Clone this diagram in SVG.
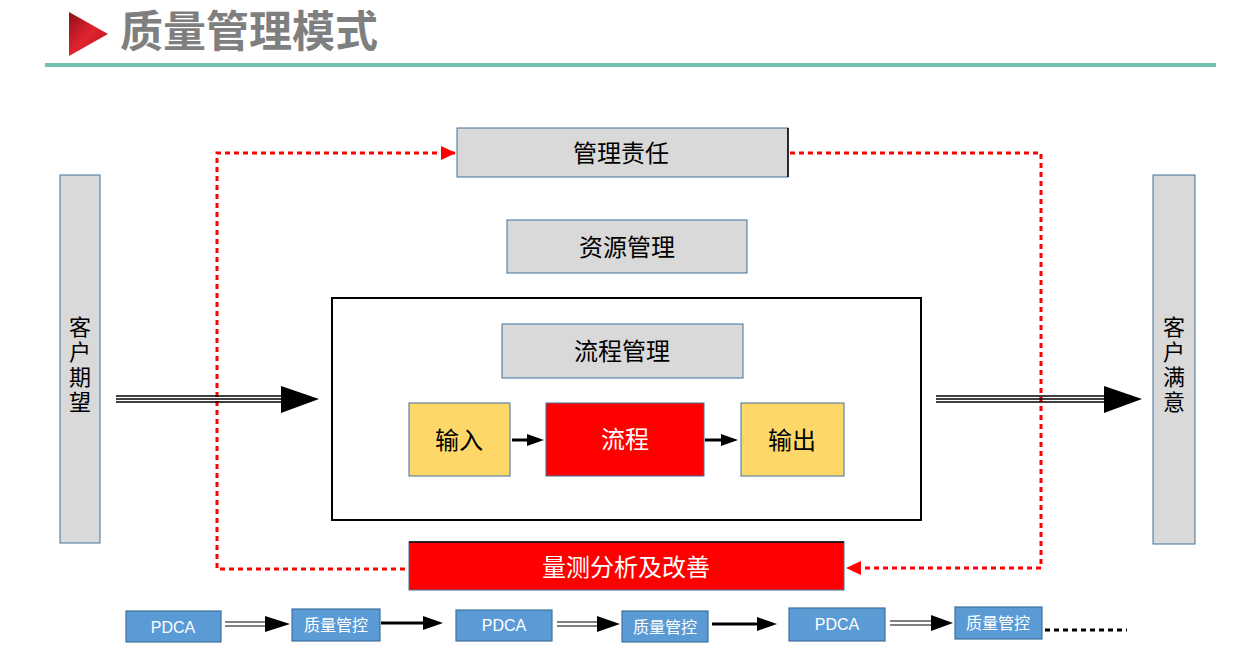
<svg xmlns="http://www.w3.org/2000/svg" width="1239" height="667" viewBox="0 0 1239 667">
<defs>
<linearGradient id="tri" x1="0" y1="0" x2="1" y2="1">
<stop offset="0" stop-color="#8e1018"/>
<stop offset="0.5" stop-color="#e0232f"/>
<stop offset="1" stop-color="#b5141e"/>
</linearGradient>
</defs>
<style>
text{font-family:"Liberation Sans","Noto Sans CJK SC",sans-serif;text-anchor:middle;dominant-baseline:central;}
.gray{fill:#d9d9d9;stroke:#41719c;stroke-width:1;}
.yellow{fill:#fdd868;stroke:#41719c;stroke-width:1;}
.red{fill:#ff0000;stroke:#41719c;stroke-width:1;}
.blue{fill:#5b9bd5;stroke:#41719c;stroke-width:1.2;}
.t22{font-size:22px;fill:#000;}
.t24{font-size:24px;fill:#000;}
.bt{font-size:16px;fill:#fff;}
.dot{fill:none;stroke:#ff0000;stroke-width:3;stroke-dasharray:5 4;}
</style>
<g id="title">
<polygon points="69,12 108,34 69,56" fill="url(#tri)"/>
<text x="120" y="32" style="text-anchor:start;font-size:43px;font-weight:bold;fill:#7f7f7f;">质量管理模式</text>
<rect x="45" y="63" width="1171" height="4" fill="#70c1b0"/>
</g>
<g id="connectors">
<polyline class="dot" points="455,153 217,153 217,569 409,569"/>
<polygon points="441,146 456,153 441,160" fill="#ff0000"/>
<polyline class="dot" points="790,153 1041,153 1041,568 860,568"/>
<polygon points="861,561 846,568 861,575" fill="#ff0000"/>
<g stroke="#000" stroke-width="1.6">
<line x1="116" y1="396" x2="285" y2="396"/>
<line x1="116" y1="399" x2="285" y2="399"/>
<line x1="116" y1="402" x2="285" y2="402"/>
<line x1="936" y1="396" x2="1108" y2="396"/>
<line x1="936" y1="399" x2="1108" y2="399"/>
<line x1="936" y1="402" x2="1108" y2="402"/>
</g>
<polygon points="281,386 319,399 281,413" fill="#000"/>
<polygon points="1104,386 1142,399 1104,413" fill="#000"/>
<line x1="512" y1="440" x2="530" y2="440" stroke="#000" stroke-width="3"/>
<polygon points="527,434 544,440 527,446" fill="#000"/>
<line x1="705" y1="440" x2="724" y2="440" stroke="#000" stroke-width="3"/>
<polygon points="721,434 738,440 721,446" fill="#000"/>
<g stroke="#000" stroke-width="1.2">
<line x1="225" y1="622" x2="268" y2="622"/><line x1="225" y1="626" x2="268" y2="626"/>
<line x1="557" y1="622" x2="600" y2="622"/><line x1="557" y1="626" x2="600" y2="626"/>
<line x1="890" y1="621" x2="933" y2="621"/><line x1="890" y1="625" x2="933" y2="625"/>
</g>
<polygon points="265,616 290,624 265,632" fill="#000"/>
<polygon points="597,616 620,624 597,632" fill="#000"/>
<polygon points="931,615 953,623 931,631" fill="#000"/>
<line x1="381" y1="623" x2="426" y2="623" stroke="#000" stroke-width="3"/>
<polygon points="423,616 443,623 423,630" fill="#000"/>
<line x1="712" y1="624" x2="760" y2="624" stroke="#000" stroke-width="3"/>
<polygon points="757,617 777,624 757,631" fill="#000"/>
<line x1="1045" y1="630" x2="1127" y2="630" stroke="#000" stroke-width="3" stroke-dasharray="5 4"/>
</g>
<g id="left-bar">
<rect class="gray" x="60" y="175" width="40" height="368"/>
<text class="t22" x="80" y="327">客</text>
<text class="t22" x="80" y="352">户</text>
<text class="t22" x="80" y="377">期</text>
<text class="t22" x="80" y="402">望</text>
</g>
<g id="right-bar">
<rect class="gray" x="1153" y="175" width="42" height="369"/>
<text class="t22" x="1174" y="327">客</text>
<text class="t22" x="1174" y="352">户</text>
<text class="t22" x="1174" y="377">满</text>
<text class="t22" x="1174" y="402">意</text>
</g>
<g id="mgmt-resp">
<rect class="gray" x="457" y="128" width="331" height="49"/>
<line x1="788" y1="128" x2="788" y2="177" stroke="#000" stroke-width="1.5"/>
<text class="t24" x="621" y="153">管理责任</text>
</g>
<g id="resource">
<rect class="gray" x="507" y="220" width="240" height="53"/>
<text class="t24" x="627" y="247">资源管理</text>
</g>
<g id="process-frame">
<rect x="332" y="298" width="589" height="222" fill="none" stroke="#000" stroke-width="2"/>
</g>
<g id="process-mgmt">
<rect class="gray" x="502" y="324" width="241" height="54"/>
<text class="t24" x="622" y="351">流程管理</text>
</g>
<g id="input">
<rect class="yellow" x="409" y="403" width="101" height="73"/>
<text class="t24" x="459" y="440">输入</text>
</g>
<g id="process">
<rect class="red" x="546" y="403" width="158" height="73"/>
<text class="t24" x="625" y="439" style="fill:#fff">流程</text>
</g>
<g id="output">
<rect class="yellow" x="741" y="403" width="103" height="73"/>
<text class="t24" x="792" y="440">输出</text>
</g>
<g id="measure">
<rect class="red" x="409" y="542" width="435" height="48"/>
<line x1="409" y1="542" x2="844" y2="542" stroke="#000" stroke-width="1.5"/>
<text class="t24" x="626" y="567" style="fill:#fff">量测分析及改善</text>
</g>
<g id="pdca1"><rect class="blue" x="126" y="611" width="95" height="31"/><text class="bt" x="173" y="627">PDCA</text></g>
<g id="qc1"><rect class="blue" x="292" y="609" width="88" height="32"/><text class="bt" x="336" y="625">质量管控</text></g>
<g id="pdca2"><rect class="blue" x="456" y="610" width="96" height="31"/><text class="bt" x="504" y="625">PDCA</text></g>
<g id="qc2"><rect class="blue" x="622" y="611" width="86" height="31"/><text class="bt" x="665" y="627">质量管控</text></g>
<g id="pdca3"><rect class="blue" x="789" y="608" width="96" height="33"/><text class="bt" x="837" y="624">PDCA</text></g>
<g id="qc3"><rect class="blue" x="955" y="607" width="87" height="32"/><text class="bt" x="998" y="623">质量管控</text></g>
</svg>
